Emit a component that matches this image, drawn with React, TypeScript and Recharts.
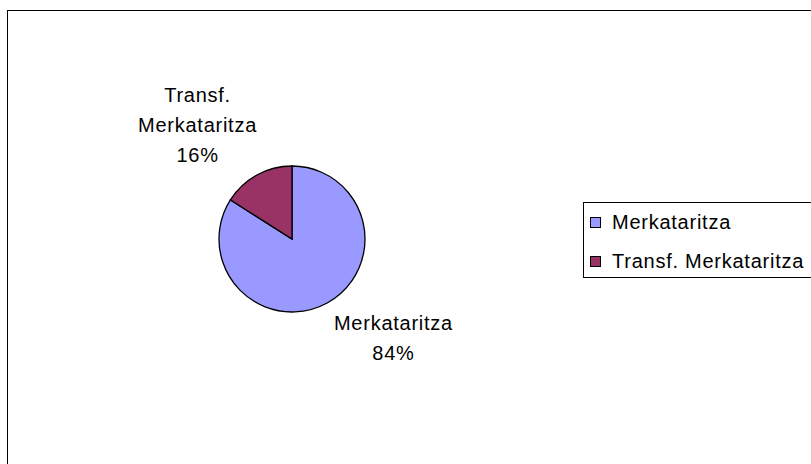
import { PieChart, Pie, Cell, Legend } from "recharts";

const categories = ["Merkataritza", "Transf. Merkataritza"];
const values = [84, 16];
const colors = ["#9999FF", "#993366"];

const data = categories.map((name, i) => ({ name, value: values[i] }));

const FONT = "'Liberation Sans', Arial, sans-serif";
const SPACING = 0.75;
const RADIAN = Math.PI / 180;

function textWidth(s: string, size: number) {
    const ctx = document.createElement("canvas").getContext("2d");
    if (!ctx) return s.length * size * 0.5;
    ctx.font = `${size}px ${FONT}`;
    return ctx.measureText(s).width + s.length * SPACING;
}

function renderLabel(props: any) {
    const { cx, cy, midAngle, outerRadius, percent, name } = props;
    const r = outerRadius + 12;
    const cos = Math.cos(-midAngle * RADIAN);
    const sin = Math.sin(-midAngle * RADIAN);
    const ax = cx + r * cos;
    const ay = cy + r * sin;
    // break long names across lines like Excel does
    const words = String(name).split(" ");
    const lines = [...words, `${Math.round(percent * 100)}%`];
    const size = 20;
    const lh = 30;
    const half = Math.max(...lines.map((l) => textWidth(l, size))) / 2;
    const mx = cos < 0 ? ax - half + 6 : ax + half + 1;
    const firstBase = sin < 0 ? ay - 3 - lh * (lines.length - 1) : ay + 17;
    return (
        <text textAnchor="middle" fontSize={size} fontFamily={FONT} fill="#000" letterSpacing={SPACING}>
            {lines.map((l, i) => (
                <tspan key={i} x={mx} y={firstBase + i * lh}>
                    {l}
                </tspan>
            ))}
        </text>
    );
}

function LegendBox(props: any) {
    const items = props.payload || [];
    return (
        <div
            style={{
                width: 240,
                height: 76,
                border: "1px solid #000",
                background: "#fff",
                boxSizing: "border-box",
                fontFamily: FONT,
                fontSize: 20,
                letterSpacing: SPACING,
                position: "relative",
            }}
        >
            {items.map((it: any, i: number) => (
                <div
                    key={i}
                    style={{ position: "absolute", left: 6, top: 7 + i * 39, height: 24, display: "flex", alignItems: "center" }}
                >
                    <span
                        style={{
                            display: "inline-block",
                            width: 9,
                            height: 9,
                            border: "1px solid #000",
                            background: it.color,
                            marginRight: 11,
                        }}
                    />
                    <span style={{ color: "#000" }}>{it.value}</span>
                </div>
            ))}
        </div>
    );
}

export default function App() {
    return (
        <div style={{ position: "fixed", left: 0, top: 0, width: 811, height: 464, background: "#fff", overflow: "hidden" }}>
            <div
                style={{
                    position: "absolute",
                    left: 7,
                    top: 10,
                    width: 830,
                    height: 480,
                    borderLeft: "1px solid #000",
                    borderTop: "1px solid #000",
                }}
            />
            <PieChart
                width={811}
                height={464}
                margin={{ top: 0, right: 0, bottom: 0, left: 0 }}
                style={{ position: "absolute", left: 0, top: 0 }}
            >
                <Pie
                    data={data}
                    dataKey="value"
                    nameKey="name"
                    cx={292}
                    cy={239}
                    outerRadius={73}
                    startAngle={90}
                    endAngle={-270}
                    stroke="#000"
                    strokeWidth={1.3}
                    label={renderLabel}
                    labelLine={false}
                    isAnimationActive={false}
                >
                    {data.map((d, i) => (
                        <Cell key={d.name} fill={colors[i]} />
                    ))}
                </Pie>
                <Legend
                    content={<LegendBox />}
                    wrapperStyle={{ position: "absolute", left: 583, top: 202, width: 240, bottom: "auto" }}
                />
            </PieChart>
        </div>
    );
}
